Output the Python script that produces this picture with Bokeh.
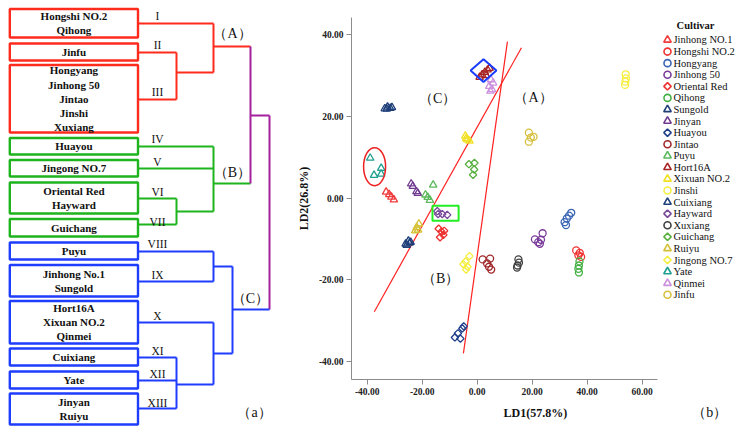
import math
from bokeh.plotting import figure
from bokeh.models import Range1d, FixedTicker, PrintfTickFormatter
from bokeh.layouts import row, column
from bokeh.embed import file_html
from bokeh.resources import INLINE
from bokeh.core.properties import value

SERIF = "Liberation Serif"

# ---------------- data: dendrogram (a) ----------------
box_labels = ["Hongshi NO.2\nQihong", "Jinfu", "Hongyang\nJinhong 50\nJintao\nJinshi\nXuxiang",
              "Huayou", "Jingong NO.7", "Oriental Red\nHayward", "Guichang",
              "Puyu", "Jinhong No.1\nSungold", "Hort16A\nXixuan NO.2\nQinmei",
              "Cuixiang", "Yate", "Jinyan\nRuiyu"]
cluster_numerals = ["I", "II", "III", "IV", "V", "VI", "VII", "VIII", "IX", "X", "XI", "XII", "XIII"]
cluster_group = ["A", "A", "A", "B", "B", "B", "B", "C", "C", "C", "C", "C", "C"]
group_names = ["（A）", "（B）", "（C）"]

# ---------------- data: discriminant scores (b) ----------------
jinhong_no1 = ([-33.1, -32.0, -31.2, -30.3], [1.5, 0.9, 0.3, -0.4])
hongshi_no2 = ([36.0, 37.3, 37.8, 36.8], [-12.8, -13.4, -14.4, -14.0])
hongyang = ([34.2, 33.4, 32.6, 31.8, 32.3], [-3.6, -4.3, -5.0, -5.9, -6.6])
jinhong_50 = ([23.8, 21.0, 22.2, 22.8, 23.2], [-8.6, -10.1, -10.8, -11.2, -10.2])
oriental_red = ([-14.0, -13.0, -12.3, -13.5, -12.0], [-7.5, -8.2, -9.0, -9.6, -8.0])
qihong = ([37.2, 37.0, 36.8, 37.0], [-15.5, -16.5, -17.3, -18.2])
sungold = ([-33.6, -32.6, -31.6, -32.9, -31.0], [21.9, 22.3, 22.0, 21.8, 22.2])
jinyan = ([-24.0, -23.4, -22.1, -21.6], [3.5, 2.9, 1.6, 1.2])
huayou = ([-5.4, -7.0, -8.1, -6.1, -4.9], [-31.9, -33.1, -34.1, -34.4, -31.4])
jintao = ([2.0, 4.7, 3.6, 4.3, 5.1], [-15.0, -14.8, -16.0, -16.8, -17.5])
puyu = ([-16.0, -18.8, -18.0, -17.2], [3.2, 0.8, 0.2, -0.5])
hort16a = ([0.9, 1.8, 2.8, 3.8, 4.5, 3.2], [29.6, 30.2, 30.8, 31.4, 31.8, 30.0])
xixuan_no2 = ([-4.3, -3.6, -2.8, -4.0], [15.2, 14.3, 14.0, 14.6])
jinshi = ([54.0, 54.1, 53.9, 53.8], [30.3, 29.3, 28.5, 27.7])
cuixiang = ([-26.0, -25.0, -24.2, -25.6, -24.6], [-11.2, -10.5, -10.8, -11.5, -11.0])
hayward = ([-14.5, -12.7, -10.9, -14.2], [-3.2, -3.9, -4.1, -3.9])
xuxiang = ([15.0, 15.2, 14.7, 14.5], [-15.0, -15.8, -16.5, -17.0])
guichang = ([-3.0, -1.0, -1.1, -1.5], [8.3, 8.6, 7.0, 5.7])
ruiyu = ([-21.2, -22.0, -22.5, -21.5], [-6.3, -7.2, -8.0, -7.8])
jingong_no7 = ([-2.8, -4.2, -5.0, -4.0, -3.5], [-14.2, -15.5, -16.2, -17.5, -16.8])
yate = ([-38.9, -37.5, -34.9, -34.9], [9.8, 5.6, 7.3, 5.9])
qinmei = ([5.0, 5.8, 4.4, 5.4, 4.8], [29.0, 28.2, 27.4, 26.6, 26.2])
jinfu = ([18.8, 20.5, 19.5, 18.8], [16.0, 15.0, 14.8, 13.8])

cultivar_names = ["Jinhong NO.1", "Hongshi NO.2", "Hongyang", "Jinhong 50", "Oriental Red", "Qihong",
                  "Sungold", "Jinyan", "Huayou", "Jintao", "Puyu", "Hort16A", "Xixuan NO.2", "Jinshi",
                  "Cuixiang", "Hayward", "Xuxiang", "Guichang", "Ruiyu", "Jingong NO.7", "Yate",
                  "Qinmei", "Jinfu"]
cultivar_scores = [jinhong_no1, hongshi_no2, hongyang, jinhong_50, oriental_red, qihong, sungold,
                   jinyan, huayou, jintao, puyu, hort16a, xixuan_no2, jinshi, cuixiang, hayward,
                   xuxiang, guichang, ruiyu, jingong_no7, yate, qinmei, jinfu]
cultivar_marker = ["triangle", "circle", "circle", "circle", "diamond", "circle", "triangle", "triangle",
                   "diamond", "circle", "triangle", "triangle", "triangle", "circle", "triangle", "diamond",
                   "circle", "diamond", "triangle", "diamond", "triangle", "triangle", "circle"]
cultivar_color = ["#f03c3c", "#f03232", "#3a64b4", "#7a3c9a", "#ee3030", "#44b044", "#1f3f7a", "#6f3a8f",
                  "#1f3f8a", "#a0282a", "#5cb85c", "#a82424", "#f0e020", "#f5ee40", "#1f3f7a", "#7a4a9a",
                  "#404040", "#5ab040", "#d4c030", "#f5ee40", "#1fa090", "#cc90dd", "#d6c040"]

ld1_ticks = [-40, -20, 0, 20, 40, 60]
ld2_ticks = [-40, -20, 0, 20, 40]

boundary1_ld1 = [-37.4, 16.1]
boundary1_ld2 = [-27.8, 36.8]
boundary2_ld1 = [-5.0, 11.0]
boundary2_ld2 = [-38.0, 38.3]
region_labels = ["（C）", "（A）", "（B）"]
region_ld1 = [-14.4, 20.5, -13.3]
region_ld2 = [24.3, 24.6, -19.7]

# ---------------- styles / layout ----------------
RED = "#ff2b1c"
GREEN = "#1eb41e"
BLUE = "#1f3dff"
MAG = "#a4209c"
TXT = "#111111"
group_color = {"A": RED, "B": GREEN, "C": BLUE}

box_top = [8.5, 43, 64.5, 137.5, 159.5, 182, 218.5, 242, 264.5, 300.5, 348, 371, 393]
box_bot = [37, 60, 132, 154, 176, 213, 236, 259, 296, 343, 365, 388, 424]
leaf_y = [23, 52, 99, 146, 168, 198, 224, 251, 281, 322, 357, 380, 408]
leaf_x1 = [213, 176, 176, 213, 213, 176, 176, 213, 213, 213, 176, 176, 176]
numeral_y = [15, 44, 91, 138, 161, 191, 221, 243, 274, 315, 350, 373, 402]
BOX_L, BOX_R = 9.3, 137.5

# ---------------- left panel: dendrogram ----------------
p1 = figure(width=290, height=433, x_range=Range1d(0, 290), y_range=Range1d(433, 0),
            toolbar_location=None, output_backend="svg", x_axis_location=None,
            y_axis_location=None, min_border=0)
p1.grid.visible = False
p1.outline_line_color = None

bcols = [group_color[g] for g in cluster_group]
p1.quad(left=[BOX_L] * 13, right=[BOX_R] * 13, top=box_top, bottom=box_bot,
        fill_color=None, line_color=bcols, line_width=2.4)
p1.text(x=[(BOX_L + BOX_R) / 2] * 13, y=[(t + b) / 2 for t, b in zip(box_top, box_bot)],
        text=box_labels, text_align="center", text_baseline="middle",
        text_font=value(SERIF), text_font_style="bold", text_font_size="11px",
        text_line_height=1.18, text_color=TXT)
p1.segment(x0=[BOX_R] * 13, y0=leaf_y, x1=leaf_x1, y1=leaf_y, line_color=bcols, line_width=2)
p1.text(x=[157] * 13, y=numeral_y, text=cluster_numerals, text_align="center",
        text_baseline="middle", text_font=value(SERIF), text_font_size="11.5px", text_color=TXT)

segs = [
    (176, 52, 176, 99, RED), (176, 72, 213, 72, RED), (213, 23, 213, 72, RED), (213, 46, 250, 46, RED),
    (176, 198, 176, 224, GREEN), (176, 211, 213, 211, GREEN), (213, 146, 213, 211, GREEN),
    (213, 183, 250, 183, GREEN),
    (250, 46, 250, 183, MAG), (250, 115, 269, 115, MAG), (269, 115, 269, 309, MAG),
    (213, 251, 213, 281, BLUE), (213, 266, 232, 266, BLUE),
    (176, 357, 176, 408, BLUE), (176, 384, 213, 384, BLUE), (213, 322, 213, 384, BLUE),
    (213, 353, 232, 353, BLUE), (232, 266, 232, 353, BLUE), (232, 309, 269, 309, BLUE),
]
p1.segment(x0=[s[0] for s in segs], y0=[s[1] for s in segs], x1=[s[2] for s in segs],
           y1=[s[3] for s in segs], line_color=[s[4] for s in segs], line_width=2)
p1.text(x=[232, 232, 250, 254], y=[33, 172, 298, 412], text=group_names + ["（a）"],
        text_align="center", text_baseline="middle", text_font=value(SERIF),
        text_font_size="14px", text_color=TXT)

# ---------------- right panel: LD scatter ----------------
FR_L, FR_R, FR_T, FR_B = 351, 737, 17, 379          # frame in page pixels
PX_X, PX_Y = 2.75, 4.086                             # pixels per data unit
X0 = -45.7
X1 = X0 + (FR_R - FR_L) / PX_X
Y0, Y1 = -44.4, 44.2
p2 = figure(width=447, height=400, x_range=Range1d(X0, X1), y_range=Range1d(Y0, Y1),
            toolbar_location=None, output_backend="svg",
            min_border_left=61, min_border_right=0, min_border_top=17, min_border_bottom=21)
p2.grid.visible = False
p2.outline_line_color = None
for ax in (p2.xaxis[0], p2.yaxis[0]):
    ax.axis_line_color = "#8c8c8c"
    ax.major_tick_line_color = "#8c8c8c"
    ax.major_tick_out = 5
    ax.major_tick_in = 0
    ax.minor_tick_out = 0
    ax.minor_tick_in = 0
    ax.major_label_text_font = SERIF
    ax.major_label_text_font_style = "bold"
    ax.major_label_text_font_size = "9.5px"
    ax.major_label_text_color = "#222222"
    ax.major_label_standoff = 3
    ax.formatter = PrintfTickFormatter(format="%.2f")
p2.xaxis.ticker = FixedTicker(ticks=ld1_ticks)
p2.yaxis.ticker = FixedTicker(ticks=ld2_ticks)
p2.xaxis.bounds = (X0, 65.6)
p2.yaxis.bounds = (Y0, Y1)
p2.yaxis.axis_label = "LD2(26.8%)"
p2.yaxis.axis_label_text_font = SERIF
p2.yaxis.axis_label_text_font_style = "bold"
p2.yaxis.axis_label_text_font_size = "12px"
p2.yaxis.axis_label_text_color = TXT
p2.yaxis.axis_label_standoff = 5

p2.line(boundary1_ld1, boundary1_ld2, line_color="#ff2020", line_width=1.2)
p2.line(boundary2_ld1, boundary2_ld2, line_color="#ff2020", line_width=1.2)


def draw_markers(xs, ys, mk, col, lw):
    if mk == "diamond":
        return p2.scatter(xs, ys, marker="square", angle=math.pi / 4, size=5.2,
                          fill_color=None, line_color=col, line_width=lw)
    if mk == "triangle":
        return p2.scatter(xs, ys, marker="triangle", size=7.5,
                          fill_color=None, line_color=col, line_width=lw)
    return p2.scatter(xs, ys, marker="circle", size=7,
                      fill_color=None, line_color=col, line_width=lw)


for sc, mk, col in zip(cultivar_scores, cultivar_marker, cultivar_color):
    draw_markers(sc[0], sc[1], mk, col, 1.3)

# highlight marks
p2.ellipse(x=[-37.3], y=[7.7], width=8.0, height=9.3, fill_color=None,
           line_color="#ee2222", line_width=1.5)
p2.patch([2.3 - 4.7, 2.3, 2.3 + 4.7, 2.3], [31.2, 31.2 + 2.8, 31.2, 31.2 - 2.8],
         fill_color=None, line_color="#1a3cff", line_width=2)
p2.rect(x=[-11.5], y=[-3.7], width=9.5, height=3.7, fill_color=None,
        line_color="#22ee22", line_width=2)

p2.text(x=region_ld1, y=region_ld2, text=region_labels, text_align="center",
        text_baseline="middle", text_font=value(SERIF), text_font_size="14px", text_color=TXT)

# legend (drawn inside the widened frame, to the right of the axis extent)
LEG_MX, LEG_TX, LEG_Y0, LEG_DY = 667, 673, 39.5, 11.58
n = len(cultivar_names)
leg_x = X0 + (LEG_MX - FR_L) / PX_X
leg_tx = X0 + (LEG_TX - FR_L) / PX_X
leg_y = [Y1 - (LEG_Y0 + LEG_DY * i - FR_T) / PX_Y for i in range(n)]
for i, (mk, col) in enumerate(zip(cultivar_marker, cultivar_color)):
    draw_markers([leg_x], [leg_y[i]], mk, col, 1.6)
p2.text(x=[leg_tx] * n, y=leg_y, text=cultivar_names, text_align="left", text_baseline="middle",
        text_font=value(SERIF), text_font_size="10.5px", text_color=TXT)
p2.text(x=[X0 + (695 - FR_L) / PX_X], y=[Y1 - (25 - FR_T) / PX_Y], text=["Cultivar"],
        text_align="center", text_baseline="middle", text_font=value(SERIF),
        text_font_style="bold", text_font_size="10.5px", text_color=TXT)

# bottom strip: x-axis title and panel tag
p3 = figure(width=447, height=33, x_range=Range1d(290, 737), y_range=Range1d(433, 400),
            toolbar_location=None, output_backend="svg", x_axis_location=None,
            y_axis_location=None, min_border=0)
p3.grid.visible = False
p3.outline_line_color = None
p3.text(x=[503], y=[412], text=["LD1(57.8%)"], text_align="center", text_baseline="middle",
        text_font=value(SERIF), text_font_style="bold", text_font_size="12px", text_color=TXT)
p3.text(x=[705], y=[412], text=["（b）"], text_align="center", text_baseline="middle",
        text_font=value(SERIF), text_font_size="14px", text_color=TXT)

layout = row(p1, column(p2, p3))
open("out.html", "w").write(file_html(layout, INLINE))
